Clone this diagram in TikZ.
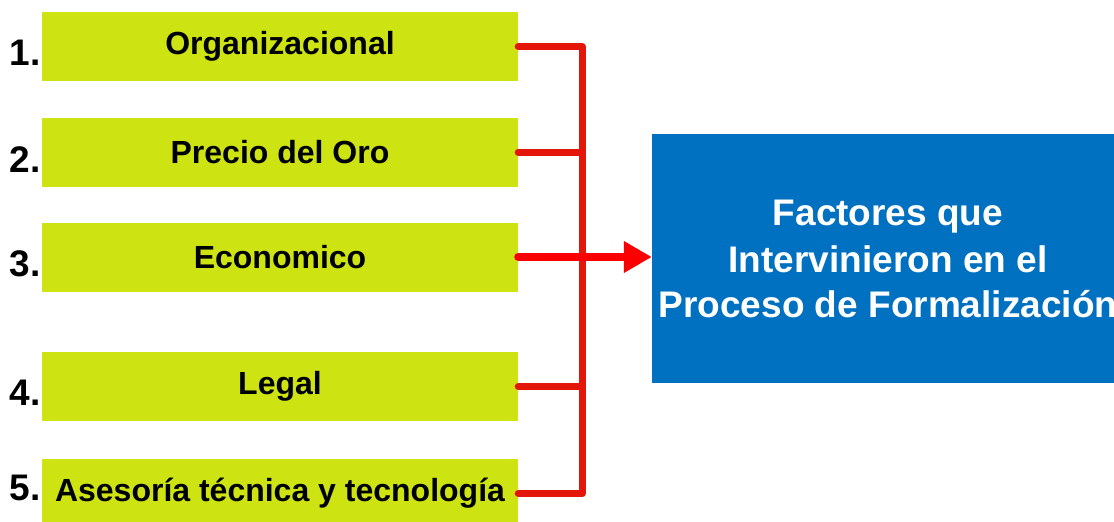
\documentclass[tikz,border=0pt]{standalone}
\usepackage{fontspec}
\setmainfont{Liberation Sans}
\usetikzlibrary{arrows.meta}
\definecolor{limegreen}{RGB}{205,228,18}
\definecolor{boxblue}{RGB}{0,112,192}
\definecolor{linered}{RGB}{228,22,10}
\definecolor{arrowred}{RGB}{250,0,0}
\tikzset{
  factor/.style={fill=limegreen, draw=none, minimum width=476pt, minimum height=69pt,
    inner sep=0pt, font=\fontsize{32}{36}\selectfont\bfseries, text=black},
  numlabel/.style={anchor=base east, inner sep=0pt, font=\fontsize{37}{40}\selectfont\bfseries},
  target/.style={fill=boxblue, draw=none, minimum width=472pt, minimum height=249pt,
    inner sep=0pt, align=center, text=white, font=\fontsize{37}{45}\selectfont\bfseries},
  redline/.style={draw=linered, line width=7pt, line cap=round, line join=round},
  redarrow/.style={draw=arrowred, line width=8pt, line cap=round,
    -{Triangle[length=28pt,width=30pt]}}
}
\begin{document}
\begin{tikzpicture}[x=1pt,y=-1pt]
\useasboundingbox (0,0) rectangle (1114,522);
\node[factor] (g1) at (280,46.5) {Organizacional};
\node[factor] (g2) at (280,152) {Precio del Oro};
\node[factor] (g3) at (280,257) {Economico};
\node[factor] (g4) at (280,386.5) {Legal};
\node[factor] (g5) at (280,493.5) {Asesoría técnica y tecnología};
\node[numlabel] (n1) at (41,65) {1.};
\node[numlabel] (n2) at (41,172) {2.};
\node[numlabel] (n3) at (41,276) {3.};
\node[numlabel] (n4) at (41,405) {4.};
\node[numlabel] (n5) at (41,500) {5.};
\node[target] (t) at (888,258.5) {\raisebox{2pt}{Factores que}\\Intervinieron en el\\Proceso de Formalización};
\coordinate (bus) at (582,0);
\draw[redline] (g1.east) -- (g1.east -| bus) -- (g5.east -| bus) -- (g5.east);
\draw[redline] (g2.east) -- (g2.east -| bus);
\draw[redline] (g4.east) -- (g4.east -| bus);
\draw[redarrow] (g3.east) -- (g3.east -| t.west);
\end{tikzpicture}
\end{document}
